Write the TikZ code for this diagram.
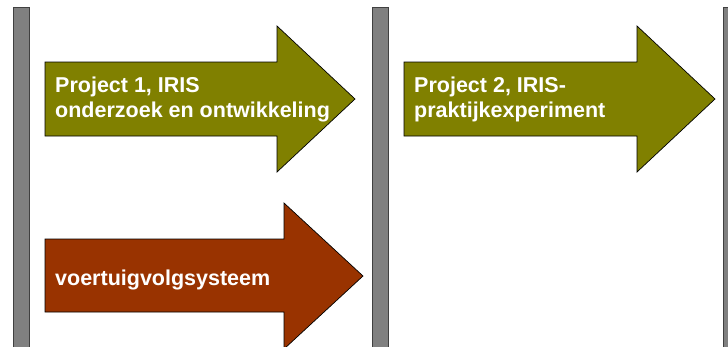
\documentclass[tikz,border=0pt]{standalone}
\usepackage{fontspec}
\setmainfont{Liberation Sans}
\definecolor{phasegray}{RGB}{128,128,128}
\definecolor{projolive}{RGB}{128,128,0}
\definecolor{projrust}{RGB}{153,51,0}
\begin{document}
\begin{tikzpicture}[x=1pt,y=-1pt,
  phasebar/.style={fill=phasegray,draw=black!75,line width=0.8pt},
  oliveshape/.style={fill=projolive,draw=black,line width=0.7pt,line join=miter},
  rustshape/.style={fill=projrust,draw=black,line width=0.7pt,line join=miter},
  arrowtext/.style={anchor=base west,inner sep=0pt,align=left,text=white,
    font=\fontsize{21.5}{25}\selectfont\bfseries}]
  \useasboundingbox (0,0) rectangle (728,346);
  \clip (0,0) rectangle (728,346);
  \fill[white] (0,0) rectangle (728,346);

  % vertical phase separators
  \draw[phasebar] (13,7) rectangle (29,360);
  \draw[phasebar] (372,7) rectangle (388,360);
  \draw[phasebar] (723,7) rectangle (739,360);

  % project 1
  \draw[oliveshape] (45,62) -- (277,62) -- (277,26) -- (355,99) -- (277,172)
    -- (277,136) -- (45,136) -- cycle;
  \node[arrowtext] (p1) at (55,117) {Project 1, IRIS\\onderzoek en ontwikkeling};

  % project 2
  \draw[oliveshape] (404,62) -- (637,62) -- (637,26) -- (715,99) -- (637,172)
    -- (637,136) -- (404,136) -- cycle;
  \node[arrowtext] (p2) at (414,117) {Project 2, IRIS-\\praktijkexperiment};

  % vehicle tracking system
  \draw[rustshape] (45,239) -- (284,239) -- (284,203) -- (363,276) -- (284,349)
    -- (284,312) -- (45,312) -- cycle;
  \node[arrowtext] (vs) at (55,285) {voertuigvolgsysteem};
\end{tikzpicture}
\end{document}
